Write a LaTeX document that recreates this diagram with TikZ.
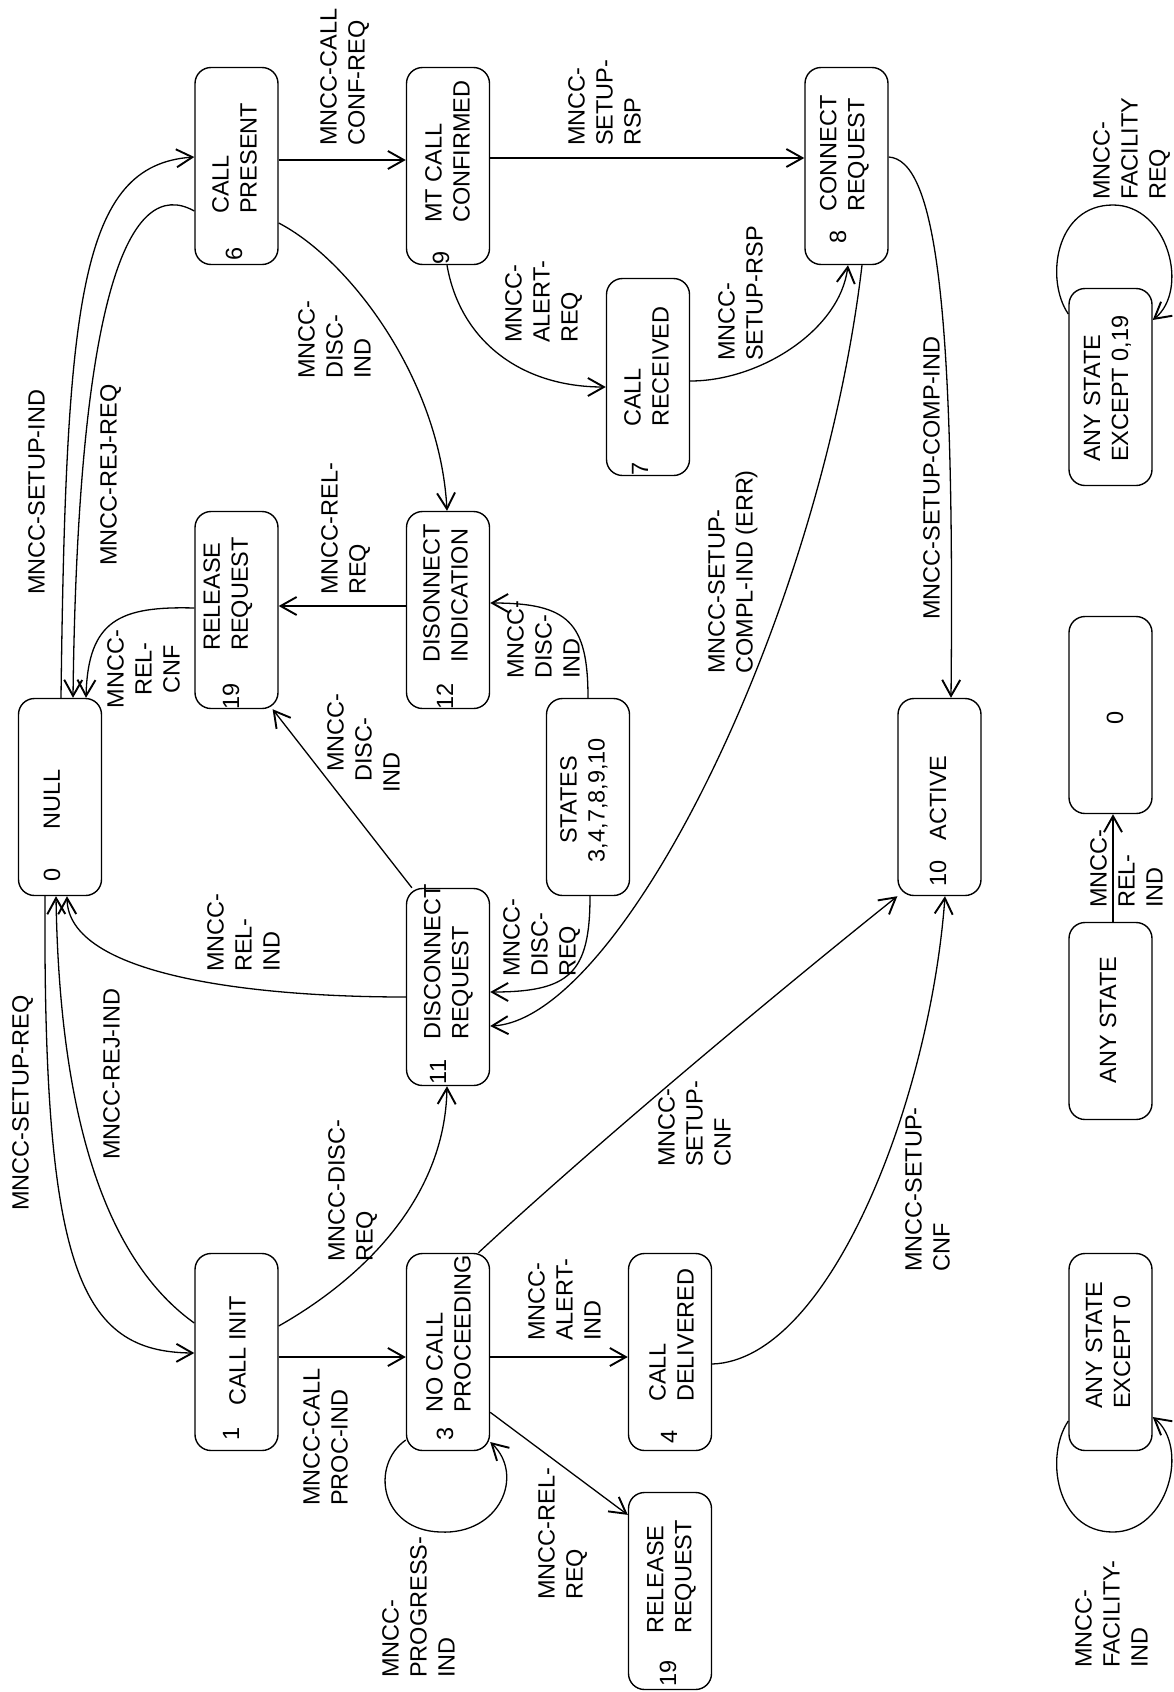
\documentclass[tikz,border=0pt]{standalone}
\usepackage{fontspec}
\setmainfont{Liberation Sans}
\usetikzlibrary{arrows.meta}
\begin{document}
\begin{tikzpicture}[x=1pt,y=-1pt,
  every node/.style={font=\fontsize{23.5pt}{28pt}\selectfont, inner sep=0pt},
  stbox/.style={draw, line width=1.4pt, rounded corners=16pt, minimum width=83pt, minimum height=197pt},
  nm/.style={rotate=90, align=left, anchor=west},
  nmc/.style={rotate=90, align=center, anchor=center},
  num/.style={rotate=90, anchor=center},
  lbl/.style={rotate=90, align=left, anchor=north west},
  arr/.style={line width=1.3pt, -{Straight Barb[length=16pt,width=18pt,line width=1.9pt]}},
]
\useasboundingbox (0,0) rectangle (1173,1692);
\fill[white] (0,0) rectangle (1173,1692);

% ---------- state boxes ----------
\node[stbox] (n6)   at (236.5,166) {};
\node[stbox] (n9)   at (448,166) {};
\node[stbox] (n8)   at (846.5,166) {};
\node[stbox] (n7)   at (648,377) {};
\node[stbox] (nfr)  at (1110.5,387) {};
\node[stbox] (n19a) at (236.5,610) {};
\node[stbox] (n12)  at (448,610) {};
\node[stbox] (n0)   at (60,797) {};
\node[stbox] (nst)  at (588,797) {};
\node[stbox] (n10)  at (939.5,797) {};
\node[stbox] (nzero) at (1110.5,715) {};
\node[stbox] (n11)  at (448,987) {};
\node[stbox] (nany) at (1110.5,1021) {};
\node[stbox] (n1)   at (236.5,1352) {};
\node[stbox] (n3)   at (448,1352) {};
\node[stbox] (n4)   at (670,1352) {};
\node[stbox] (n19b) at (670,1591) {};
\node[stbox] (nfi)  at (1110.5,1352) {};

% ---------- box texts ----------
\node[nm] (t6)   at (234.5,214) {CALL\\PRESENT};
\node[nm] (t9)   at (447.5,223) {MT CALL\\CONFIRMED};
\node[nm] (t8)   at (844.5,212) {CONNECT\\REQUEST};
\node[nm] (t7)   at (646.5,427) {CALL\\RECEIVED};
\node[nm] (tfr)  at (1107.5,462) {ANY STATE\\EXCEPT 0,19};
\node[nm] (t19a) at (228,651) {RELEASE\\REQUEST};
\node[nm] (t12)  at (445.5,663) {DISONNECT\\INDICATION};
\node[nmc] (t0)  at (52,799) {NULL};
\node[nmc] (tst) at (584,800) {STATES\\3,4,7,8,9,10};
\node[nmc] (t10) at (938,798) {ACTIVE};
\node[nmc] (tzero) at (1115,718) {0};
\node[nm] (t11)  at (448.5,1040) {DISCONNECT\\REQUEST};
\node[nmc] (tany) at (1108,1020) {ANY STATE};
\node[nmc] (t1)  at (237.5,1351) {CALL INIT};
\node[nm] (t3)   at (448.5,1413) {NO CALL\\PROCEEDING};
\node[nm] (t4)   at (671.5,1402) {CALL\\DELIVERED};
\node[nm] (t19b) at (671.5,1634) {RELEASE\\REQUEST};
\node[nm] (tfi)  at (1108,1409) {ANY STATE\\EXCEPT 0};

% ---------- state numbers ----------
\node[num] (k6)   at (234,254) {6};
\node[num] (k9)   at (441,258) {9};
\node[num] (k8)   at (838,237) {8};
\node[num] (k7)   at (640,469) {7};
\node[num] (k12)  at (445,696) {12};
\node[num] (k19a) at (231,696) {19};
\node[num] (k11)  at (438,1072) {11};
\node[num] (k3)   at (445,1434) {3};
\node[num] (k4)   at (669,1437) {4};
\node[num] (k19b) at (668,1673) {19};
\node[num] (k1)   at (231,1434) {1};
\node[num] (k0)   at (52,875) {0};
\node[num] (k10)  at (938,873) {10};

% ---------- connectors ----------
\draw[arr] ([xshift=1pt]n0.north) .. controls (66,300) and (80,165) .. ([yshift=9pt]n6.west);
\draw[arr] ([yshift=-45pt]n6.west) .. controls (130,175) and (78,290) .. ([xshift=13pt]n0.north);
\draw[arr] ([yshift=6pt]n6.east) -- ([yshift=6pt]n9.west);
\draw[arr] ([yshift=8pt]n9.east) -- ([yshift=8pt]n8.west);
\draw[arr] ([xshift=-1pt]n9.south) .. controls (460,340) and (520,387) .. ([yshift=-10pt]n7.west);
\draw[arr] ([yshift=-4pt]n7.east) .. controls (760,381) and (840,330) .. ([xshift=1.5pt]n8.south);
\draw[arr] ([yshift=-57pt]n6.east) .. controls (350,260) and (440,380) .. ([xshift=-1pt]n12.north);
\draw[arr] ([yshift=9pt]n8.east) .. controls (935,160) and (955,300) .. ([xshift=11.5pt]n10.north);
\draw[arr] ([xshift=15.5pt]n8.south) .. controls (820,620) and (620,1020) .. ([yshift=-39pt]n11.east);
\draw[arr] ([yshift=4pt]n12.west) -- ([yshift=4pt]n19a.east);
\draw[arr] ([yshift=2pt]n19a.west) .. controls (120,606) and (88,620) .. ([xshift=26pt]n0.north);
\draw[arr] (nst.north) .. controls (588,622) and (568,603) .. ([yshift=7pt]n12.east);
\draw[arr] ([xshift=2pt]nst.south) .. controls (590,973) and (570,992) .. ([yshift=-5pt]n11.east);
\draw[arr] (n11.110) -- (n19a.-70);
\draw[arr] ([yshift=-10pt]n11.west) .. controls (250,997) and (68,975) .. ([xshift=7pt]n0.south);
\draw[arr] ([xshift=-15pt]n0.south) .. controls (43,1270) and (80,1352) .. ([yshift=-1pt]n1.west);
\draw[arr] ([yshift=29pt]n1.west) .. controls (120,1270) and (60,1150) .. ([xshift=-4pt]n0.south);
\draw[arr] ([yshift=-5pt]n1.east) -- ([yshift=-5pt]n3.west);
\draw[arr] ([yshift=26pt]n1.east) .. controls (360,1280) and (445,1200) .. ([xshift=-1pt]n11.south);
\draw[arr] (n3.73) .. controls (600,1140) and (780,990) .. (n10.247);
\draw[arr] ([yshift=-12pt]n4.east) .. controls (830,1360) and (930,1100) .. ([xshift=5.5pt]n10.south);
\draw[arr] ([yshift=-5pt]n3.east) -- ([yshift=-5pt]n4.west);
\draw[arr] (n3.-55) -- (n19b.119);
\draw[arr] ([yshift=-88pt]n3.west) .. controls (370,1465) and (380,1530) .. (440,1532)
           .. controls (500,1535) and (525,1475) .. ([yshift=-90pt]n3.east);
\draw[arr] ([yshift=73pt]nfr.west) .. controls (1045,280) and (1055,205) .. (1113,205)
           .. controls (1168,205) and (1190,290) .. ([yshift=67pt]nfr.east);
\draw[arr] ([yshift=-69pt]nfi.west) .. controls (1045,1455) and (1055,1532) .. (1113,1532)
           .. controls (1168,1532) and (1190,1447) .. ([yshift=-65pt]nfi.east);
\draw[arr] ([xshift=2.5pt]nany.north) -- ([xshift=2.5pt]nzero.south);

% ---------- connector labels ----------
\node[lbl] (l1)  at (320,146)  {MNCC-CALL\\CONF-REQ};
\node[lbl] (l2)  at (568,146)  {MNCC-\\SETUP-\\RSP};
\node[lbl] (l3)  at (505,343)  {MNCC-\\ALERT-\\REQ};
\node[lbl] (l4)  at (718,361)  {MNCC-\\SETUP-RSP};
\node[lbl] (l5)  at (1093,200) {MNCC-\\FACILITY\\REQ};
\node[lbl] (l6)  at (298,379)  {MNCC-\\DISC-\\IND};
\node[lbl] (l7)  at (28,595)   {MNCC-SETUP-IND};
\node[lbl] (l8)  at (100,566)  {MNCC-REJ-REQ};
\node[lbl] (l9)  at (321,595)  {MNCC-REL-\\REQ};
\node[rotate=90, align=center, anchor=north] (l10) at (107,669) {MNCC-\\REL-\\CNF};
\node[lbl] (l11) at (507,679)  {MNCC-\\DISC-\\IND};
\node[lbl] (l12) at (327,793)  {\hspace*{21pt}MNCC-\\\hspace*{11pt}DISC-\\IND};
\node[lbl] (l13) at (207,972)  {MNCC-\\REL-\\IND};
\node[lbl] (l14) at (503,977)  {MNCC-\\DISC-\\REQ};
\node[lbl] (l15) at (708,674)  {MNCC-SETUP-\\COMPL-IND (ERR)};
\node[lbl] (l16) at (923,620)  {MNCC-SETUP-COMP-IND};
\node[lbl] (l17) at (12,1211)  {MNCC-SETUP-REQ};
\node[lbl] (l18) at (103,1160) {MNCC-REJ-IND};
\node[lbl] (l19) at (328,1262) {MNCC-DISC-\\REQ};
\node[lbl] (l20) at (658,1167) {MNCC-\\SETUP-\\CNF};
\node[lbl] (l21) at (528,1341) {MNCC-\\ALERT-\\IND};
\node[lbl] (l22) at (538,1600) {MNCC-REL-\\REQ};
\node[lbl] (l23) at (382,1678) {MNCC-\\PROGRESS-\\IND};
\node[lbl] (l24) at (303,1506) {MNCC-CALL\\PROC-IND};
\node[lbl] (l25) at (905,1272) {MNCC-SETUP-\\CNF};
\node[lbl] (l26) at (1075,1668) {MNCC-\\FACILITY-\\IND};
\node[lbl] (l27) at (1090,908) {MNCC-\\REL-\\IND};
\end{tikzpicture}
\end{document}
